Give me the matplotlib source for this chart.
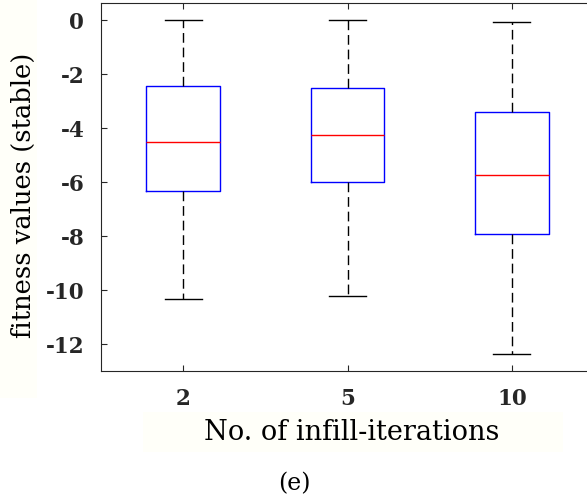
"""Box plot of stable fitness values per number of infill iterations."""

import matplotlib
matplotlib.use('Agg')
from matplotlib import pyplot as plt
from matplotlib.patches import Rectangle

plt.rcParams['font.family'] = ['DejaVu Serif']
plt.rcParams['axes.unicode_minus'] = False
plt.rcParams['lines.scale_dashes'] = False

# Summary statistics for each group
iterations = ['2', '5', '10']
medians = [-4.53, -4.27, -5.73]
q1s = [-6.32, -5.99, -7.94]
q3s = [-2.44, -2.53, -3.41]
whisker_lows = [-10.32, -10.22, -12.37]
whisker_highs = [0.0, -0.01, -0.07]

stats = []
for label, med, q1, q3, lo, hi in zip(iterations, medians, q1s, q3s,
                                      whisker_lows, whisker_highs):
    stats.append({'label': label, 'med': med, 'q1': q1, 'q3': q3,
                  'whislo': lo, 'whishi': hi, 'fliers': []})

W, H = 587, 499
fig = plt.figure(figsize=(W / 100, H / 100), dpi=100)

# Faint highlight patches behind the axis labels
fig.patches.append(Rectangle((0, 1 - 398 / H), 37 / W, 398 / H,
                             transform=fig.transFigure, facecolor='#fffff9',
                             edgecolor='none', zorder=-5))
fig.patches.append(Rectangle((143 / W, 1 - 452 / H), 420 / W, 40 / H,
                             transform=fig.transFigure, facecolor='#fffff9',
                             edgecolor='none', zorder=-5))

ax = fig.add_axes([0.172, 0.2565, 0.84, 0.7375])
ax.patch.set_alpha(0)

positions = list(range(1, len(stats) + 1))
ax.bxp(stats, positions=positions, widths=0.45, capwidths=0.225,
       showfliers=False,
       boxprops=dict(color='#0000ff', linewidth=1.0),
       medianprops=dict(color='#ff0000', linewidth=1.0),
       whiskerprops=dict(color='black', linewidth=1.0,
                         linestyle=(0, (7, 3.5))),
       capprops=dict(color='black', linewidth=1.0))

ax.set_xlim(0.5, 3.5)
ax.set_ylim(-13.0, 0.63)
ax.set_xticks(positions)
ax.set_xticklabels(iterations, fontweight='bold', fontsize=15.5)
ax.set_yticks(range(-12, 1, 2))
ax.set_yticklabels([str(v) for v in range(-12, 1, 2)],
                   fontweight='bold', fontsize=15.5)
ax.tick_params(direction='in', length=4, width=0.8, color='#262626',
               top=True, right=True, labelcolor='#262626')
ax.tick_params(axis='y', pad=12)
ax.tick_params(axis='x', pad=12)
for spine in ax.spines.values():
    spine.set_color('#262626')
    spine.set_linewidth(0.8)

ax.set_xlabel('No. of infill-iterations', fontsize=19.5, va='center')
ax.xaxis.set_label_coords(0.509, -0.166)
ax.set_ylabel('fitness values (stable)', fontsize=18.5, va='center')
ax.yaxis.set_label_coords(-0.158, 0.478)

fig.text(294 / W, 1 - 484 / H, '(e)', ha='center', va='center', fontsize=17)

fig.savefig('out.png', dpi=100)
